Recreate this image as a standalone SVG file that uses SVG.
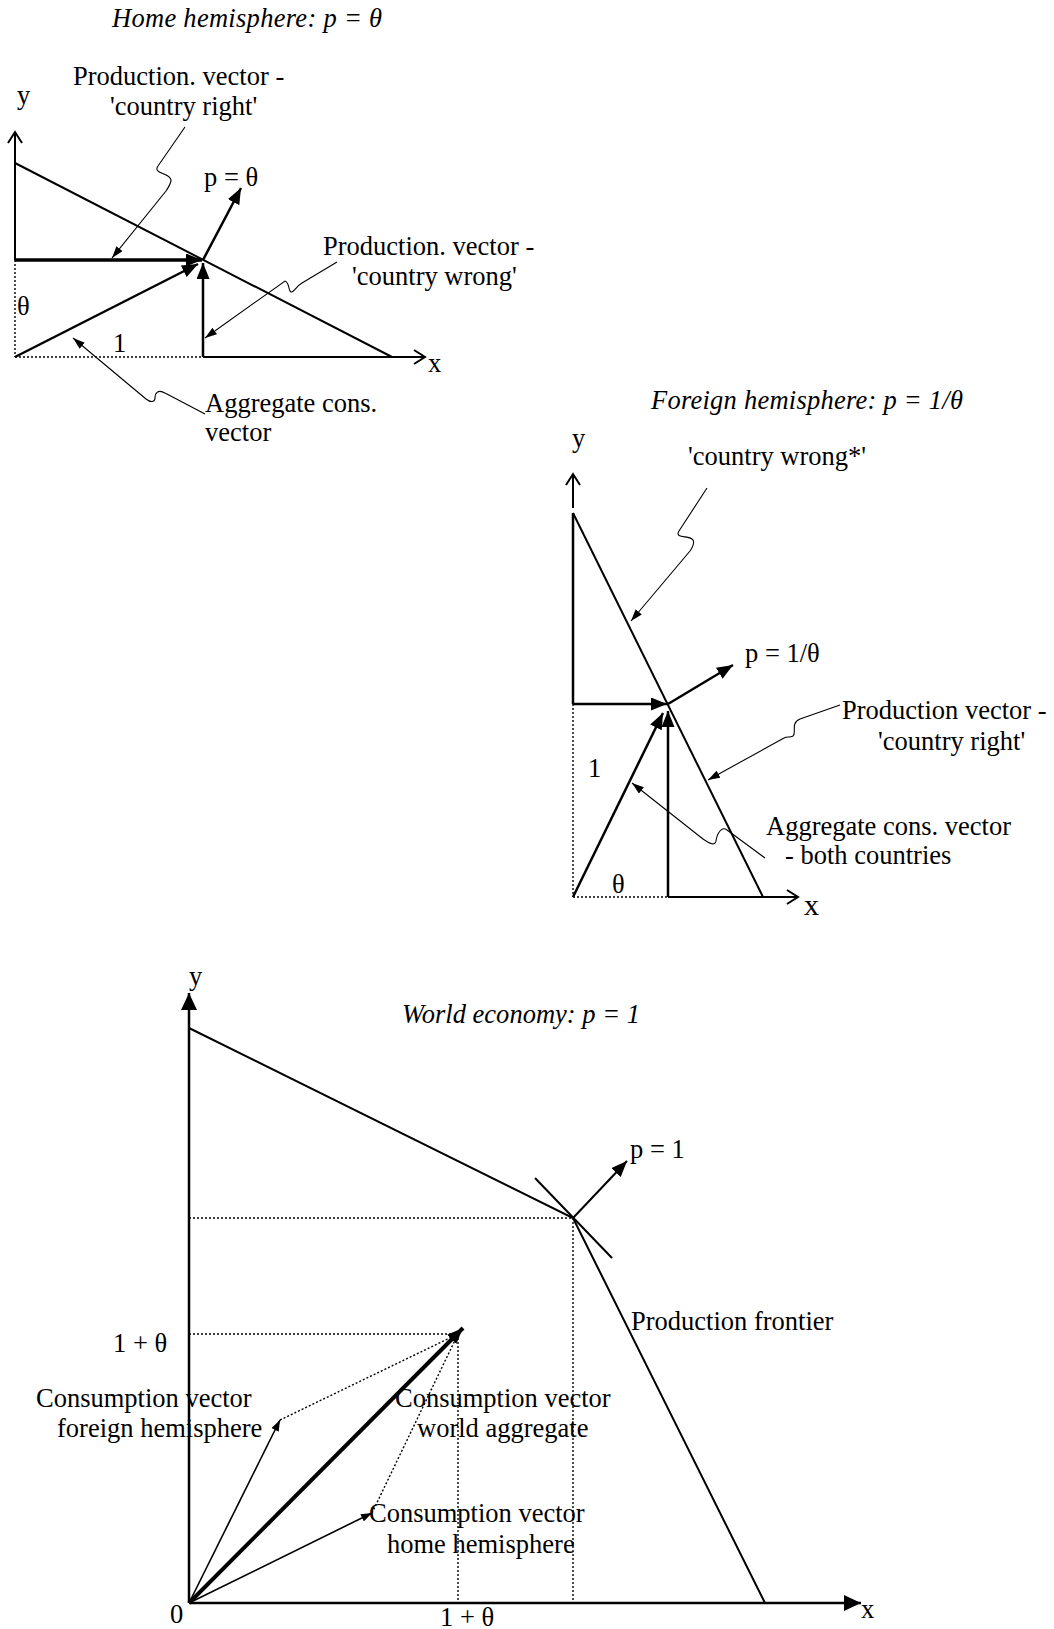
<svg xmlns="http://www.w3.org/2000/svg" width="1054" height="1629" viewBox="0 0 1054 1629">
<style>
text{font-family:"Liberation Serif","Times New Roman",serif;font-size:26.5px;fill:#000}
.it{font-style:italic}
.ln{stroke:#000;fill:none;stroke-width:2}
.thk{stroke:#000;fill:none;stroke-width:3.3}
.med{stroke:#000;fill:none;stroke-width:2.5}
.thin{stroke:#000;fill:none;stroke-width:1.6}
.ld{stroke:#000;fill:none;stroke-width:1.1}
.dot{stroke:#000;fill:none;stroke-width:1.4;stroke-dasharray:2 2}
</style>
<defs>
<marker id="mBig" markerUnits="userSpaceOnUse" viewBox="0 0 16 13" markerWidth="16" markerHeight="13" refX="16" refY="6.5" orient="auto"><path d="M0,0 L16,6.5 L0,13 z" fill="#000"/></marker>
<marker id="mAx" markerUnits="userSpaceOnUse" viewBox="0 0 17 16" markerWidth="17" markerHeight="16" refX="17" refY="8" orient="auto"><path d="M0,0 L17,8 L0,16 z" fill="#000"/></marker>
<marker id="mSm" markerUnits="userSpaceOnUse" viewBox="0 0 11 8" markerWidth="11" markerHeight="8" refX="11" refY="4" orient="auto"><path d="M0,0 L11,4 L0,8 z" fill="#000"/></marker>
<marker id="mLd" markerUnits="userSpaceOnUse" viewBox="0 0 12 8" markerWidth="12" markerHeight="8" refX="12" refY="4" orient="auto"><path d="M0,0 L12,4 L0,8 z" fill="#000"/></marker>
<marker id="mOpen" markerUnits="userSpaceOnUse" viewBox="-2 -2 15 18" markerWidth="15" markerHeight="18" refX="11" refY="7" orient="auto"><path d="M0,0 L11,7 L0,14" fill="none" stroke="#000" stroke-width="2"/></marker>
</defs>

<g id="connectors">
<!-- Home hemisphere -->
<line class="ln" x1="15" y1="260" x2="15" y2="132" marker-end="url(#mOpen)"/>
<line class="dot" x1="15" y1="260" x2="15" y2="357"/>
<line class="dot" x1="15" y1="357" x2="203" y2="357"/>
<line class="ln" x1="203" y1="357" x2="425" y2="357" marker-end="url(#mOpen)"/>
<line class="ln" x1="15" y1="163" x2="392" y2="357"/>
<line class="thk" x1="15" y1="260" x2="202" y2="260" marker-end="url(#mBig)"/>
<line class="med" x1="15" y1="357" x2="198" y2="264" marker-end="url(#mBig)"/>
<line class="med" x1="203" y1="357" x2="203" y2="263" marker-end="url(#mBig)"/>
<line class="med" x1="203" y1="260" x2="241" y2="188" marker-end="url(#mBig)"/>
<path class="ld" d="M185,127 L158,166 C152,174 172,173 171,181 C170,185 168,188 166,191 L112,258" marker-end="url(#mLd)"/>
<path class="ld" d="M337,262 L302,283 C295,287 294,293 291,292 C288,291 290,283 285,281 L205,338" marker-end="url(#mLd)"/>
<path class="ld" d="M205,414 L165,393 C158,389 155,393 155,398 C155,402 151,403 146,399 L73,338" marker-end="url(#mLd)"/>

<!-- Foreign hemisphere -->
<line class="ln" x1="573" y1="508" x2="573" y2="474" marker-end="url(#mOpen)"/>
<line class="med" x1="573" y1="513" x2="573" y2="704"/>
<line class="dot" x1="573" y1="704" x2="573" y2="897"/>
<line class="dot" x1="573" y1="897" x2="668" y2="897"/>
<line class="ln" x1="668" y1="897" x2="798" y2="897" marker-end="url(#mOpen)"/>
<line class="ln" x1="573" y1="513" x2="763" y2="897"/>
<line class="med" x1="573" y1="704" x2="667" y2="704" marker-end="url(#mBig)"/>
<line class="med" x1="668" y1="897" x2="668" y2="711" marker-end="url(#mBig)"/>
<line class="med" x1="573" y1="897" x2="663" y2="713" marker-end="url(#mBig)"/>
<line class="med" x1="668" y1="704" x2="733" y2="665" marker-end="url(#mBig)"/>
<path class="ld" d="M707,488 L679,531 C674,539 690,535 693,540 C695,544 692,548 690,551 L631,621" marker-end="url(#mLd)"/>
<path class="ld" d="M840,705 L800,719 C790,723 797,733 793,736 C790,738 787,736 784,738 L708,780" marker-end="url(#mLd)"/>
<path class="ld" d="M765,858 L727,830 C722,826 717,833 716,841 C715,846 710,844 703,839 L632,783" marker-end="url(#mLd)"/>

<!-- World economy -->
<line class="med" x1="189" y1="1603" x2="189" y2="993" marker-end="url(#mAx)"/>
<line class="med" x1="189" y1="1603" x2="861" y2="1603" marker-end="url(#mAx)"/>
<polyline class="ln" points="189,1028 573,1218 765,1603"/>
<line class="ln" x1="535" y1="1178" x2="612" y2="1258"/>
<line class="ln" x1="573" y1="1218" x2="627" y2="1161" marker-end="url(#mBig)"/>
<line class="dot" x1="189" y1="1218" x2="573" y2="1218"/>
<line class="dot" x1="573" y1="1218" x2="573" y2="1603"/>
<line class="dot" x1="189" y1="1334" x2="458" y2="1334"/>
<line class="dot" x1="458" y1="1334" x2="458" y2="1603"/>
<line class="dot" x1="280" y1="1420" x2="458" y2="1334"/>
<line class="dot" x1="372" y1="1513" x2="458" y2="1334"/>
<line stroke="#000" stroke-width="4" x1="189" y1="1603" x2="463" y2="1328" marker-end="url(#mBig)"/>
<line class="thin" x1="189" y1="1603" x2="280" y2="1420" marker-end="url(#mSm)"/>
<line class="thin" x1="189" y1="1603" x2="372" y2="1513" marker-end="url(#mSm)"/>
</g>

<g id="home-labels">
<g id="home-title"><text class="it" x="112" y="27" textLength="270" lengthAdjust="spacing">Home hemisphere: p = θ</text></g>
<g id="home-y"><text x="17" y="104">y</text></g>
<g id="home-prod-right"><text x="73" y="85">Production. vector -</text><text x="110" y="115">'country right'</text></g>
<g id="home-p"><text x="204" y="186">p = θ</text></g>
<g id="home-prod-wrong"><text x="323" y="255">Production. vector -</text><text x="352" y="285">'country wrong'</text></g>
<g id="home-theta"><text x="17" y="315">θ</text></g>
<g id="home-one"><text x="113" y="352">1</text></g>
<g id="home-x"><text x="428" y="372">x</text></g>
<g id="home-agg"><text x="205" y="412">Aggregate cons.</text><text x="205" y="441">vector</text></g>
</g>

<g id="foreign-labels">
<g id="foreign-title"><text class="it" x="651" y="409" textLength="312" lengthAdjust="spacing">Foreign hemisphere: p = 1/θ</text></g>
<g id="foreign-y"><text x="572" y="447">y</text></g>
<g id="foreign-wrong"><text x="688" y="465">'country wrong*'</text></g>
<g id="foreign-p"><text x="745" y="662">p = 1/θ</text></g>
<g id="foreign-prod-right"><text x="842" y="719">Production vector -</text><text x="878" y="750">'country right'</text></g>
<g id="foreign-one"><text x="588" y="777">1</text></g>
<g id="foreign-agg"><text x="766" y="835">Aggregate cons. vector</text><text x="785" y="864">- both countries</text></g>
<g id="foreign-theta"><text x="612" y="893">θ</text></g>
<g id="foreign-x"><text x="804" y="915" style="font-size:30px">x</text></g>
</g>

<g id="world-labels">
<g id="world-y"><text x="189" y="985">y</text></g>
<g id="world-title"><text class="it" x="402" y="1023" textLength="238" lengthAdjust="spacing">World economy: p = 1</text></g>
<g id="world-p"><text x="630" y="1158">p = 1</text></g>
<g id="world-frontier"><text x="631" y="1330">Production frontier</text></g>
<g id="world-1theta-y"><text x="113" y="1352">1 + θ</text></g>
<g id="world-cons-foreign"><text x="36" y="1407">Consumption vector</text><text x="57" y="1437">foreign hemisphere</text></g>
<g id="world-cons-world"><text x="395" y="1407">Consumption vector</text><text x="417" y="1437">world aggregate</text></g>
<g id="world-cons-home"><text x="369" y="1522">Consumption vector</text><text x="387" y="1553">home hemisphere</text></g>
<g id="world-zero"><text x="170" y="1623">0</text></g>
<g id="world-1theta-x"><text x="440" y="1626">1 + θ</text></g>
<g id="world-x"><text x="861" y="1618">x</text></g>
</g>
</svg>
